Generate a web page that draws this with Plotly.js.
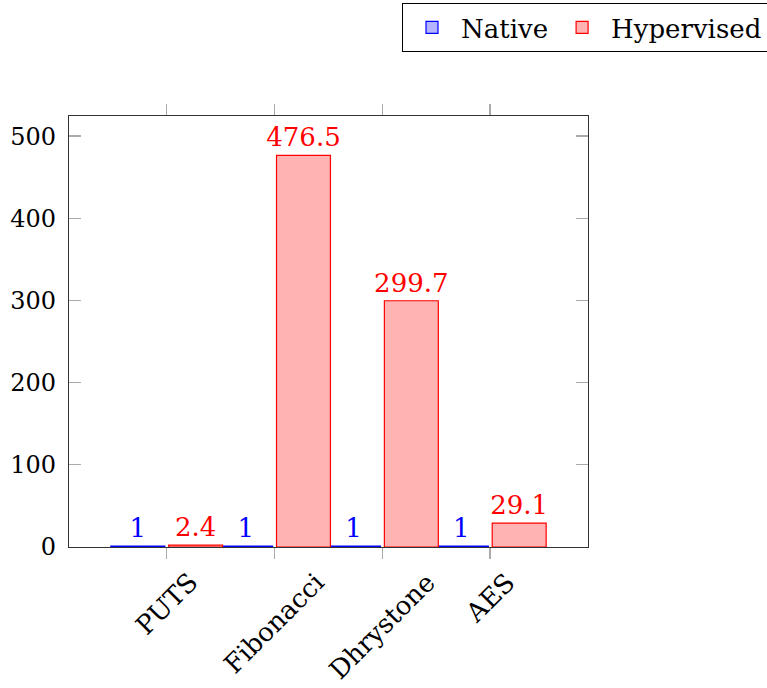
<!DOCTYPE html>
<html>
<head>
<meta charset="utf-8">
<script src="https://cdn.plot.ly/plotly-3.0.1.min.js"></script>
<style>html,body{margin:0;padding:0;background:#fff;}#chart{width:767px;height:688px;}</style>
</head>
<body>
<div id="chart"></div>
<script>
const categories = ["PUTS", "Fibonacci", "Dhrystone", "AES"];
const nativeValues = [1, 1, 1, 1];
const hypervisedValues = [2.4, 476.5, 299.7, 29.1];
const seriesNames = ["Native", "Hypervised"];
const yTickValues = [0, 100, 200, 300, 400, 500];

const FONT = "DejaVu Serif";
const FS = 26;

const traces = [
  {
    type: "bar", name: seriesNames[0], x: categories, y: nativeValues,
    text: nativeValues.map(String), textposition: "outside", constraintext: "none", cliponaxis: false,
    textfont: {family: FONT, size: FS, color: "#0000ff"},
    marker: {color: "#b3b3ff", line: {color: "#0000ff", width: 1.2}},
    width: 0.5, offset: -0.516, hoverinfo: "x+y"
  },
  {
    type: "bar", name: seriesNames[1], x: categories, y: hypervisedValues,
    text: hypervisedValues.map(String), textposition: "outside", constraintext: "none", cliponaxis: false,
    textfont: {family: FONT, size: FS, color: "#ff0000"},
    marker: {color: "#ffb3b3", line: {color: "#ff0000", width: 1.2}},
    width: 0.5, offset: 0.02, hoverinfo: "x+y"
  }
];

const annotations = categories.map(c => ({
  x: c, xref: "x", y: -0.041, yref: "paper",
  text: c, showarrow: false, textangle: -45,
  xanchor: "center", yanchor: "top",
  font: {family: FONT, size: FS, color: "#000"}
}));

const layout = {
  width: 767, height: 688,
  margin: {l: 69, r: 179, t: 116, b: 141, pad: 0, autoexpand: false},
  paper_bgcolor: "#fff", plot_bgcolor: "#fff",
  font: {family: FONT, size: FS, color: "#000"},
  barmode: "overlay",
  showlegend: true,
  legend: {
    orientation: "h", xref: "container", x: 402 / 767, xanchor: "left",
    yref: "container", y: 1 - 3 / 688, yanchor: "top",
    bordercolor: "#000", borderwidth: 1, bgcolor: "#fff",
    font: {family: FONT, size: FS, color: "#000"},
    itemwidth: 48, tracegroupgap: 0
  },
  xaxis: {
    type: "category", range: [-0.904, 3.908],
    showticklabels: false, showgrid: false, zeroline: false,
    ticks: "outside", ticklen: 11, tickcolor: "#aaaaaa", tickwidth: 1.3,
    showline: true, linecolor: "#333", linewidth: 1.2, mirror: "ticks"
  },
  yaxis: {
    range: [0, 524.5], tickvals: yTickValues, ticktext: yTickValues.map(String),
    showgrid: false, zeroline: false,
    ticks: "inside", ticklen: 12, tickcolor: "#aaaaaa", tickwidth: 1.3,
    showline: true, linecolor: "#333", linewidth: 1.2, mirror: "ticks",
    tickfont: {family: FONT, size: 24, color: "#000"}, ticklabelstandoff: 7
  },
  annotations: annotations
};

Plotly.newPlot("chart", traces, layout, {displayModeBar: false, staticPlot: true});
</script>
</body>
</html>
